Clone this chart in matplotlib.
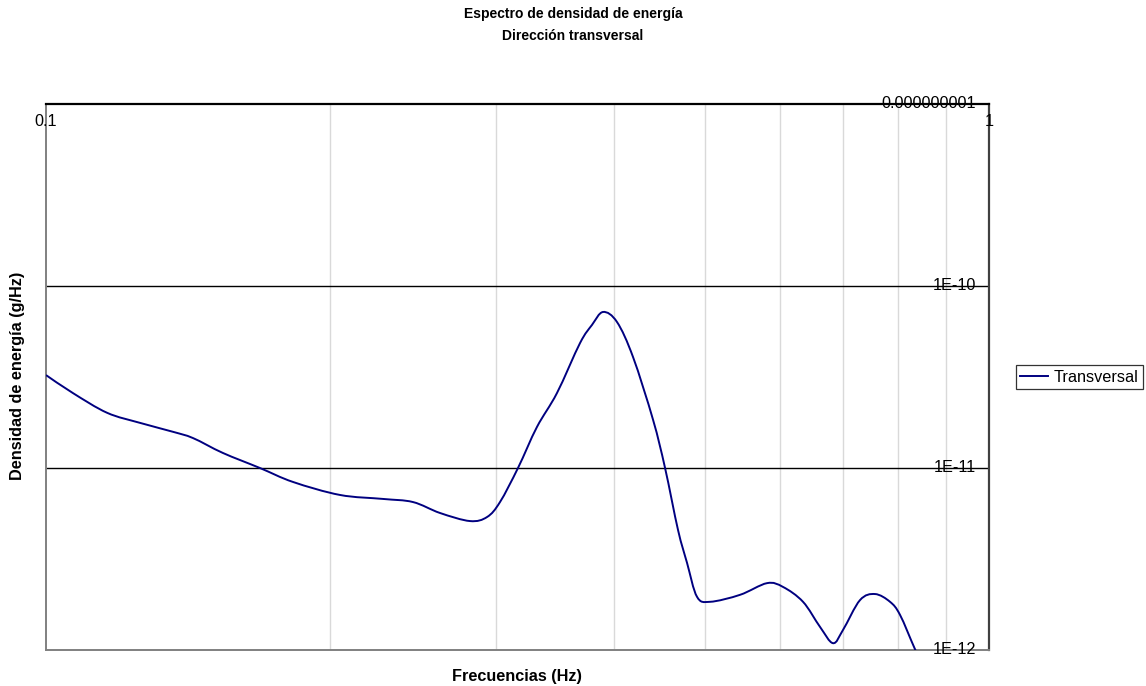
import matplotlib
matplotlib.use("Agg")
import numpy as np
import matplotlib.pyplot as plt
from matplotlib.path import Path
from matplotlib.patches import PathPatch
from matplotlib.lines import Line2D
from matplotlib.ticker import NullLocator

plt.rcParams['font.family'] = ['Liberation Sans', 'DejaVu Sans']

title_lines = ["Espectro de densidad de energía", "Dirección transversal"]
x_label = "Frecuencias (Hz)"
y_label = "Densidad de energía (g/Hz)"
series_name = "Transversal"

freq = [0.1000, 0.1068, 0.1161, 0.1258, 0.1364, 0.1432, 0.1540, 0.1686, 0.1828,
        0.2050, 0.2278, 0.2450, 0.2617, 0.2816, 0.2936, 0.3030, 0.3166, 0.3316,
        0.3482, 0.3684, 0.3793, 0.3897, 0.4032, 0.4193, 0.4403, 0.4534, 0.4680,
        0.4784, 0.4902, 0.5061, 0.5445, 0.5816, 0.6048, 0.6350, 0.6619, 0.6833,
        0.7002, 0.7298, 0.7571, 0.7853, 0.8047, 0.8347, 0.8553]
density = [3.24e-11, 2.58e-11, 2.01e-11, 1.77e-11, 1.58e-11, 1.46e-11, 1.21e-11,
           1.00e-11, 8.38e-12, 7.11e-12, 6.76e-12, 6.50e-12, 5.66e-12, 5.11e-12,
           5.38e-12, 6.50e-12, 1.00e-11, 1.68e-11, 2.58e-11, 4.86e-11, 6.11e-11,
           7.20e-11, 6.34e-11, 4.07e-11, 1.84e-11, 1.00e-11, 4.56e-12, 3.01e-12,
           1.96e-12, 1.84e-12, 2.01e-12, 2.33e-12, 2.22e-12, 1.84e-12, 1.34e-12,
           1.09e-12, 1.29e-12, 1.88e-12, 2.03e-12, 1.84e-12, 1.56e-12, 1.01e-12,
           7.76e-13]

x_ticks = [0.1, 1]
x_tick_labels = ["0.1", "1"]
x_minor = [0.2, 0.3, 0.4, 0.5, 0.6, 0.7, 0.8, 0.9]
y_ticks = [1e-12, 1e-11, 1e-10, 1e-9]
y_tick_labels = ["1E-12", "1E-11", "1E-10", "0.000000001"]

LINE_COLOR = '#000080'
FS = 11.7

W, H = 1146, 686
fig = plt.figure(figsize=(W / 100, H / 100), dpi=100)
L, R, T, B = 46, 989, 104, 650
ax = fig.add_axes([L / W, 1 - B / H, (R - L) / W, (B - T) / H])
ax.set_xscale('log')
ax.set_yscale('log')
ax.set_xlim(0.1, 1)
ax.set_ylim(1e-12, 1e-9)

for xv in x_minor:
    ax.axvline(xv, color='#d9d9d9', lw=1.0, zorder=0)
for yv in y_ticks[1:-1]:
    ax.axhline(yv, color='black', lw=1.0, zorder=1)

# smoothed line (Excel-style Bezier through the data points, in log space)
lx = np.log10(freq)
ly = np.log10(density)
P = np.column_stack([lx, ly])
n = len(P)
verts = [P[0]]
codes = [Path.MOVETO]
for i in range(n - 1):
    p0 = P[i - 1] if i > 0 else P[i]
    p1 = P[i]
    p2 = P[i + 1]
    p3 = P[i + 2] if i + 2 < n else P[i + 1]
    c1 = p1 + (p2 - p0) / 6.0
    c2 = p2 - (p3 - p1) / 6.0
    verts += [c1, c2, p2]
    codes += [Path.CURVE4] * 3
verts = 10 ** np.array(verts)
patch = PathPatch(Path(verts, codes), facecolor='none', edgecolor=LINE_COLOR,
                  lw=1.4, zorder=3)
ax.add_patch(patch)

ax.xaxis.set_major_locator(NullLocator())
ax.xaxis.set_minor_locator(NullLocator())
ax.yaxis.set_major_locator(NullLocator())
ax.yaxis.set_minor_locator(NullLocator())

for xv, lab in zip(x_ticks, x_tick_labels):
    ax.text(xv, 1 - 17 / (B - T), lab, transform=ax.get_xaxis_transform(),
            ha='center', va='center', fontsize=FS, zorder=5)
for yv, lab in zip(y_ticks, y_tick_labels):
    ax.text(1 - 13 / (R - L), yv, lab, transform=ax.get_yaxis_transform(),
            ha='right', va='center', fontsize=FS, zorder=5)

for side, col, lw in [('top', 'black', 1.6), ('left', '#808080', 1.4),
                      ('bottom', '#808080', 1.4), ('right', '#404040', 1.6)]:
    ax.spines[side].set_color(col)
    ax.spines[side].set_linewidth(lw)

fig.text(573 / W, 1 - 14 / H, title_lines[0], ha='center', va='center',
         fontsize=10, fontweight='bold')
fig.text(573 / W, 1 - 36 / H, title_lines[1], ha='center', va='center',
         fontsize=10, fontweight='bold')
fig.text(517 / W, 1 - 677 / H, x_label, ha='center', va='center',
         fontsize=FS, fontweight='bold')
fig.text(18 / W, 1 - 376 / H, y_label, ha='center', va='center',
         fontsize=FS, fontweight='bold', rotation=90)

handle = Line2D([], [], color=LINE_COLOR, lw=1.4)
leg = fig.legend([handle], [series_name], loc='center',
                 bbox_to_anchor=(1079.5 / W, 1 - 377 / H),
                 frameon=True, fancybox=False, fontsize=FS, handlelength=1.75,
                 handletextpad=0.35, borderpad=0.25, borderaxespad=0)
leg.get_frame().set_edgecolor('black')
leg.get_frame().set_linewidth(0.9)

fig.savefig('out.png', dpi=100, facecolor='white')
